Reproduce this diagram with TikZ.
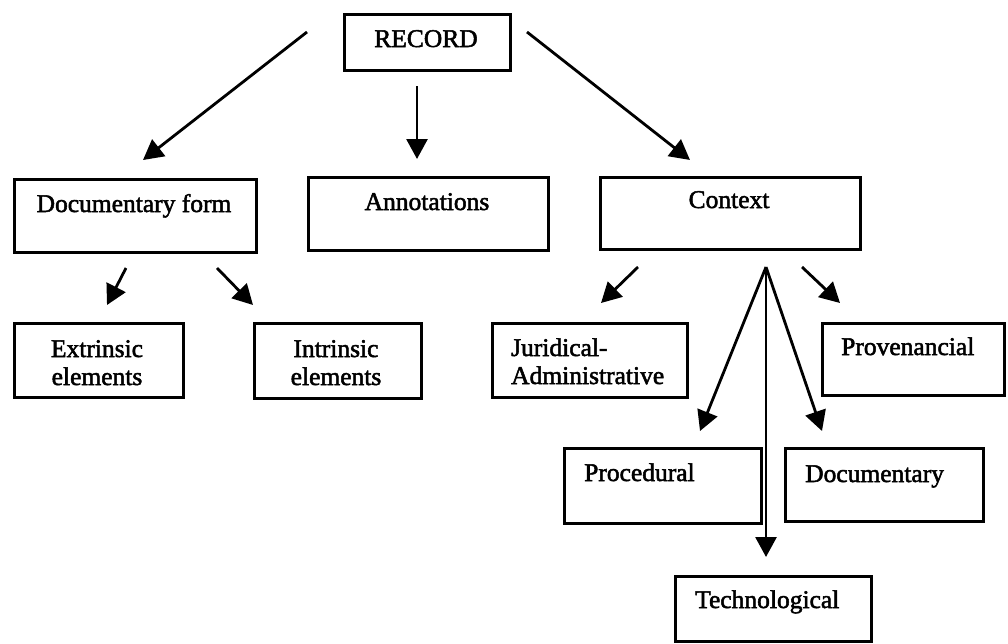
\documentclass[tikz,border=0pt]{standalone}
\usepackage{fontspec}
\setmainfont{Liberation Serif}[FakeBold=2]
\usetikzlibrary{arrows.meta}
\begin{document}
\begin{tikzpicture}[x=1pt,y=-1pt,
  box/.style={draw, line width=3pt, inner sep=0pt, anchor=north west},
  lbl/.style={font=\fontsize{25.5}{28}\selectfont, inner sep=0pt},
  arr/.style={line width=2.8pt, -{Triangle[length=20pt,width=21pt]}}]
\useasboundingbox (0,0) rectangle (1008,643);
% boxes
\node[box, minimum width=166pt, minimum height=56pt] (rec)  at (343,13) {};
\node[box, minimum width=242pt, minimum height=73pt] (doc)  at (13,178) {};
\node[box, minimum width=240pt, minimum height=73pt] (ann)  at (307,176) {};
\node[box, minimum width=260pt, minimum height=72pt] (ctx)  at (599,176) {};
\node[box, minimum width=169pt, minimum height=74pt] (ext)  at (13,322) {};
\node[box, minimum width=167pt, minimum height=75pt] (int)  at (253,322) {};
\node[box, minimum width=195pt, minimum height=74pt] (jur)  at (491,322) {};
\node[box, minimum width=182pt, minimum height=72pt] (prov) at (821,322) {};
\node[box, minimum width=197pt, minimum height=75pt] (proc) at (563,447) {};
\node[box, minimum width=198pt, minimum height=73pt] (docu) at (784,447) {};
\node[box, minimum width=196pt, minimum height=65pt] (tech) at (674,575) {};
% labels
\node[lbl, anchor=base] (trec) at (426,47) {RECORD};
\node[lbl, anchor=base] (tdoc) at (134,212) {Documentary form};
\node[lbl, anchor=base] (tann) at (427,210) {Annotations};
\node[lbl, anchor=base] (tctx) at (729,208) {Context};
\node[lbl, anchor=base, align=center] (text) at (97,385) {Extrinsic\\elements};
\node[lbl, anchor=base, align=center] (tint) at (336,385) {Intrinsic\\elements};
\node[lbl, anchor=base west, align=left] (tjur) at (511,384) {Juridical-\\Administrative};
\node[lbl, anchor=base west] (tprov) at (841,355) {Provenancial};
\node[lbl, anchor=base west] (tproc) at (584,481) {Procedural};
\node[lbl, anchor=base west] (tdocu) at (805,482) {Documentary};
\node[lbl, anchor=base west] (ttech) at (695,608) {Technological};
% arrow end points
\coordinate (r1) at (307,32);  \coordinate (r1e) at (143,160);
\coordinate (r2) at (417,86);  \coordinate (r2e) at (417,159);
\coordinate (r3) at (527,32);  \coordinate (r3e) at (690,160);
\coordinate (d1) at (126,268); \coordinate (d1e) at (107,305);
\coordinate (d2) at (217,268); \coordinate (d2e) at (253,305);
\coordinate (c1) at (638,267); \coordinate (c1e) at (601,303);
\coordinate (c2) at (802,267); \coordinate (c2e) at (840,303);
\coordinate (hub) at (766,267);
\coordinate (f1e) at (700,431);
\coordinate (f2e) at (822,431);
\coordinate (f3e) at (766,557);
% arrows
\draw[arr] (r1) -- (r1e);
\draw[arr] (r2) -- (r2e);
\draw[arr] (r3) -- (r3e);
\draw[arr] (d1) -- (d1e);
\draw[arr] (d2) -- (d2e);
\draw[arr] (c1) -- (c1e);
\draw[arr] (c2) -- (c2e);
\draw[arr] (hub) -- (f1e);
\draw[arr] (hub) -- (f2e);
\draw[arr] (hub) -- (f3e);
\end{tikzpicture}
\end{document}
